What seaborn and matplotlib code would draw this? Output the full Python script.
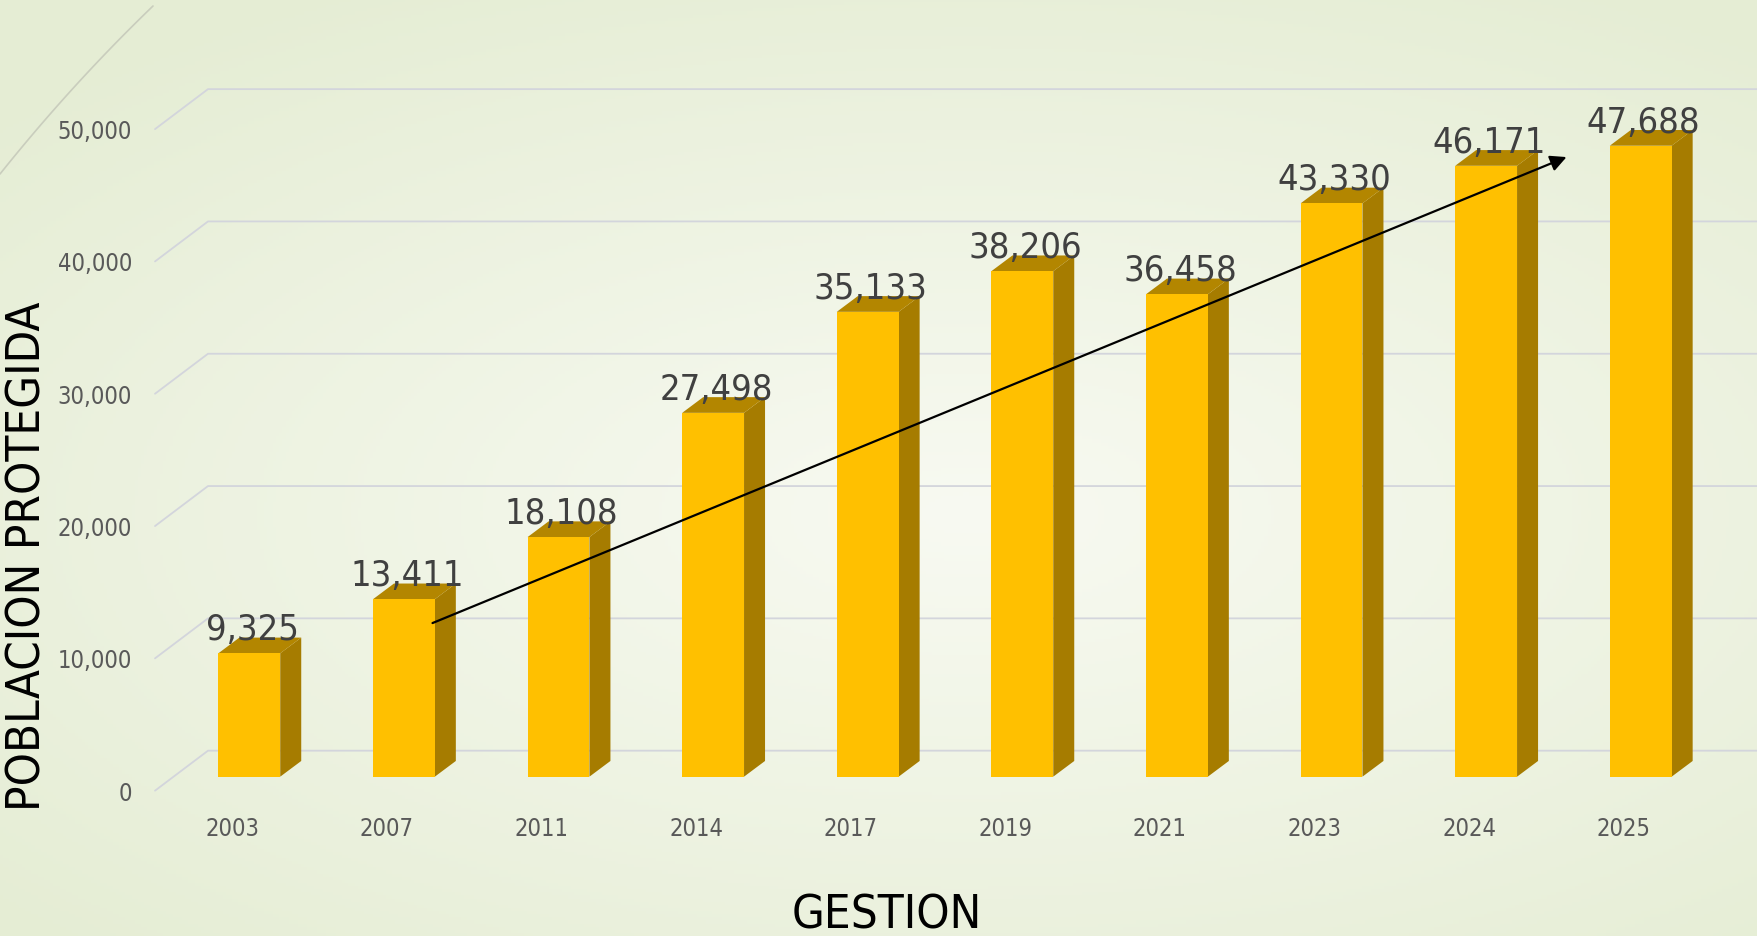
import numpy as np
import pandas as pd
import matplotlib
matplotlib.use('Agg')
import matplotlib.pyplot as plt
import seaborn as sns
from matplotlib.patches import Polygon
from matplotlib.transforms import ScaledTranslation

# data
years = ['2003', '2007', '2011', '2014', '2017', '2019', '2021', '2023', '2024', '2025']
values = [9325, 13411, 18108, 27498, 35133, 38206, 36458, 43330, 46171, 47688]
yticks = [0, 10000, 20000, 30000, 40000, 50000]

# trend arrow (start / end in data units)
arrow_start = (1.185, 11610)
arrow_end = (8.52, 46830)

sns.set_style('white')
plt.rcParams['font.family'] = ['DejaVu Sans']
plt.rcParams['font.stretch'] = 'condensed'

fig = plt.figure(figsize=(17.57, 9.37), dpi=100)

# background gradient
bg = fig.add_axes([0, 0, 1, 1])
yy, xx = np.mgrid[0:1:300j, 0:1:560j]
r = np.clip(np.sqrt(((xx - 0.55) / 0.75) ** 2 + ((yy - 0.45) / 0.65) ** 2), 0, 1)
c_in = np.array([248, 250, 242]) / 255
c_out = np.array([229, 237, 212]) / 255
img = c_in[None, None, :] * (1 - r[..., None]) + c_out[None, None, :] * r[..., None]
bg.imshow(img, extent=[0, 1, 0, 1], aspect='auto', origin='lower')
# decorative swoosh in the corner
t = np.linspace(0, 1, 50)
cx = 2 * (1 - t) * t * 72 + t ** 2 * 153
cy = (1 - t) ** 2 * 175 + 2 * (1 - t) * t * 85 + t ** 2 * 7
bg.plot(cx / 1757, 1 - cy / 937, color='#c9cdbd', lw=1.2)
bg.set_xlim(0, 1)
bg.set_ylim(0, 1)
bg.axis('off')

ax = fig.add_axes([0.0759, 0.1418, 0.9241, 0.819])
ax.patch.set_alpha(0)
df = pd.DataFrame({'year': years, 'value': values})
sns.barplot(data=df, x='year', y='value', color='#FFC000', saturation=1,
            width=0.4, ax=ax, zorder=3, linewidth=0)
ax.set_xlim(-0.75, 9.752)
ax.set_ylim(-2000, 56000)


def px2data(dxp, dyp):
    inv = ax.transData.inverted()
    a = inv.transform((0, 0))
    b = inv.transform((dxp, dyp))
    return b[0] - a[0], b[1] - a[1]


# 3D look: side and top faces
dx, dy = px2data(21, 15.7)
for patch in ax.patches:
    x0, w, h = patch.get_x(), patch.get_width(), patch.get_height()
    side = Polygon([(x0 + w, 0), (x0 + w + dx, dy), (x0 + w + dx, h + dy), (x0 + w, h)],
                   closed=True, facecolor='#A67C00', edgecolor='none', zorder=2.9)
    top = Polygon([(x0, h), (x0 + dx, h + dy), (x0 + w + dx, h + dy), (x0 + w, h)],
                  closed=True, facecolor='#B38600', edgecolor='none', zorder=2.9)
    ax.add_patch(side)
    ax.add_patch(top)
    ax.annotate(f'{int(h):,}', xy=(x0 + w / 2, h), xytext=(3, 14),
                textcoords='offset pixels', ha='center', va='baseline',
                fontsize=26, color='#404040', zorder=5)

# walls / gridlines
fx, fy = px2data(-94.3, -14)
bx, by = px2data(-41.3, 26)
for v in yticks:
    ax.plot([fx, bx, 9.752], [v + fy, v + by, v + by], color='#d3d5dc',
            lw=1.3, zorder=1, clip_on=False)

ax.annotate('', xy=arrow_end, xytext=arrow_start,
            arrowprops=dict(arrowstyle='-|>', color='black', lw=1.6,
                            mutation_scale=24, shrinkA=0, shrinkB=0), zorder=6)

ax.set_yticks(yticks)
ax.set_yticklabels([f'{v:,}' for v in yticks])
ax.tick_params(axis='y', length=0, pad=1, labelsize=17, labelcolor='#595959')
ax.tick_params(axis='x', length=0, pad=9, labelsize=17, labelcolor='#595959')
for lab in ax.get_yticklabels():
    lab.set_transform(lab.get_transform() + ScaledTranslation(0, -13.5 / 100, fig.dpi_scale_trans))
for lab in ax.get_xticklabels():
    lab.set_transform(lab.get_transform() + ScaledTranslation(-17 / 100, 0, fig.dpi_scale_trans))

for s in ax.spines.values():
    s.set_visible(False)

ax.set_xlabel('GESTION', fontsize=34, color='black', va='center')
ax.xaxis.set_label_coords((887 - 133.3) / 1623.7, -(916 - 804) / 767.4)
ax.set_ylabel('POBLACION PROTEGIDA', fontsize=34, color='black', va='center')
ax.yaxis.set_label_coords((28 - 133.3) / 1623.7, 0.3233)

plt.savefig('out.png', dpi=100)
